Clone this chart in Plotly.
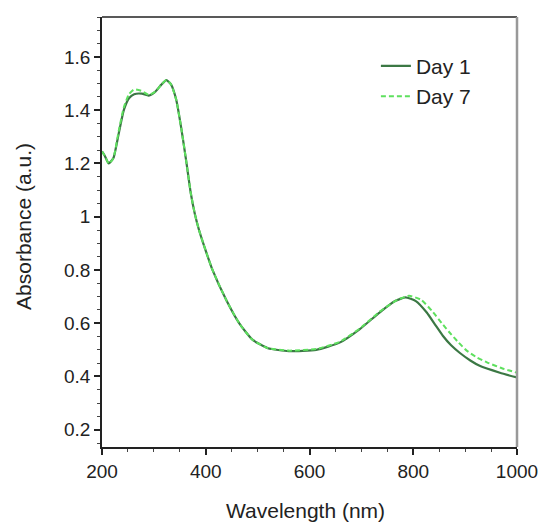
import plotly.graph_objects as go

# Day 1 spectrum
wl_day1 = [200, 205, 213, 222, 232, 242, 252, 262, 277, 290, 303, 314, 324, 333, 343,
           353, 363, 371, 379, 387, 396, 413, 440, 465, 490, 520, 560, 613, 658, 697,
           735, 765, 785, 805, 826, 842, 857, 873, 890, 910, 928, 967, 1000]
abs_day1 = [1.245, 1.23, 1.20, 1.22, 1.31, 1.40, 1.445, 1.46, 1.462, 1.455, 1.47, 1.495,
            1.513, 1.497, 1.44, 1.33, 1.20, 1.09, 1.01, 0.95, 0.895, 0.80, 0.685, 0.598,
            0.538, 0.506, 0.495, 0.50, 0.527, 0.578, 0.64, 0.683, 0.697, 0.683, 0.64,
            0.595, 0.553, 0.517, 0.488, 0.46, 0.44, 0.414, 0.396]

# Day 7 spectrum
wl_day7 = [200, 205, 213, 222, 232, 242, 252, 262, 277, 290, 303, 314, 324, 333, 343,
           353, 363, 371, 379, 387, 396, 413, 440, 465, 490, 520, 560, 613, 658, 697,
           735, 770, 792, 815, 838, 855, 870, 887, 903, 922, 942, 972, 1000]
abs_day7 = [1.245, 1.23, 1.20, 1.22, 1.32, 1.41, 1.46, 1.478, 1.472, 1.458, 1.47, 1.495,
            1.513, 1.497, 1.44, 1.33, 1.20, 1.09, 1.01, 0.95, 0.895, 0.80, 0.685, 0.598,
            0.538, 0.506, 0.497, 0.503, 0.53, 0.58, 0.643, 0.688, 0.703, 0.688, 0.642,
            0.6, 0.565, 0.528, 0.497, 0.472, 0.453, 0.43, 0.414]

x_title = "Wavelength (nm)"
y_title = "Absorbance (a.u.)"

fig = go.Figure()
fig.add_trace(go.Scatter(x=wl_day1, y=abs_day1, mode="lines", name="Day 1",
                         line=dict(color="#3b7844", width=2.2, shape="spline", smoothing=0.5)))
fig.add_trace(go.Scatter(x=wl_day7, y=abs_day7, mode="lines", name="Day 7",
                         line=dict(color="#5ee05e", width=2, dash="5px,3px",
                                   shape="spline", smoothing=0.5)))

font_family = "Liberation Sans, Arial, Helvetica, sans-serif"

fig.update_layout(
    width=545, height=523,
    margin=dict(l=102, r=28, t=17, b=76, autoexpand=False),
    paper_bgcolor="white", plot_bgcolor="white",
    font=dict(family=font_family, size=19, color="#222"),
    showlegend=True,
    legend=dict(x=0.66, y=0.933, xanchor="left", yanchor="top",
                bgcolor="rgba(0,0,0,0)", font=dict(size=21, color="#222"),
                tracegroupgap=0, itemwidth=30),
    xaxis=dict(range=[200, 1000], dtick=200, tick0=200, automargin=False,
               showgrid=False, zeroline=False,
               showline=True, linecolor="#222", linewidth=1.5, mirror=False,
               ticks="outside", ticklen=6, tickwidth=1.5, tickcolor="#222",
               minor=dict(ticks="outside", dtick=50, ticklen=3, tickwidth=1, tickcolor="#444"),
               tickfont=dict(size=19)),
    yaxis=dict(range=[0.135, 1.75], dtick=0.2, tick0=0.2, automargin=False,
               showgrid=False, zeroline=False,
               showline=True, linecolor="#222", linewidth=1.5, mirror=False,
               ticks="outside", ticklen=6, tickwidth=1.5, tickcolor="#222",
               minor=dict(ticks="outside", dtick=0.05, ticklen=3, tickwidth=1, tickcolor="#444"),
               tickfont=dict(size=19)),
    annotations=[
        dict(text=x_title, xref="paper", yref="paper", x=0.49, y=-0.147,
             xanchor="center", yanchor="middle", showarrow=False,
             font=dict(size=21, color="#222")),
        dict(text=y_title, xref="paper", yref="paper", x=-0.188, y=0.514,
             xanchor="center", yanchor="middle", showarrow=False, textangle=-90,
             font=dict(size=21, color="#222")),
    ],
    shapes=[
        dict(type="line", xref="paper", yref="paper", x0=0, x1=1, y0=1, y1=1,
             line=dict(color="#222", width=1.5)),
        dict(type="line", xref="paper", yref="paper", x0=1, x1=1, y0=0, y1=1,
             line=dict(color="#999", width=2.5)),
    ],
)

fig.write_html("out.html")
